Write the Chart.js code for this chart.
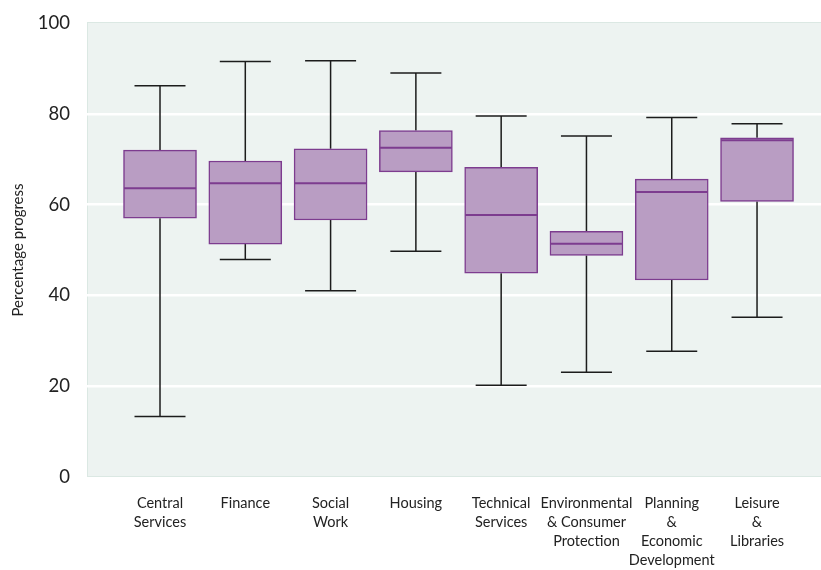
<!DOCTYPE html>
<html>
<head>
<meta charset="utf-8">
<script src="https://cdn.jsdelivr.net/npm/chart.js@4"></script>
<style>
body{margin:0;background:#fff}
#wrap{width:821px;height:570px}
</style>
</head>
<body>
<div id="wrap"><canvas id="boxChart"></canvas></div>
<script>

const categorias = [
["Central","Services"],
["Finance"],
["Social","Work"],
["Housing"],
["Technical","Services"],
["Environmental","& Consumer","Protection"],
["Planning","&","Economic","Development"],
["Leisure","&","Libraries"]
]

const minimo  = [13.3, 47.9, 41.0, 49.7, 20.2, 23.1, 27.7, 35.2]
const q1      = [57.0, 51.3, 56.6, 67.2, 44.9, 48.8, 43.4, 60.7]
const mediana = [63.6, 64.7, 64.7, 72.5, 57.7, 51.4, 62.8, 74.2]
const q3      = [72.0, 69.6, 72.3, 76.3, 68.2, 54.1, 65.6, 74.7]
const maximo  = [86.2, 91.5, 91.7, 89.0, 79.5, 75.1, 79.2, 77.8]

const yTicks = [0, 20, 40, 60, 80, 100]

const roxo = "#7d3c8f"
const preenchimento = "#b99dc3"
const fonte = "Lato, 'Noto Sans', sans-serif"

// fundo da area do grafico
const fundo = {
id:"fundo",
beforeDraw(chart){
const a = chart.chartArea
const ctx = chart.ctx
ctx.save()
ctx.fillStyle = "#edf3f1"
ctx.fillRect(a.left, a.top - 1, a.right - a.left, a.bottom - a.top + 1)
ctx.strokeStyle = "#dbe8e3"
ctx.lineWidth = 1
ctx.strokeRect(a.left + 0.5, a.top - 0.5, a.right - a.left, a.bottom - a.top)
ctx.restore()
}
}

// bigodes atras das caixas, mediana por cima
const bigodes = {
id:"bigodes",
beforeDatasetsDraw(chart){
const x = chart.scales.x
const y = chart.scales.y
const ctx = chart.ctx
ctx.save()
ctx.strokeStyle = "#1c1c1c"
ctx.lineWidth = 1.5
minimo.forEach((v,i)=>{
const cx = x.getPixelForValue(i)
ctx.beginPath()
ctx.moveTo(cx, y.getPixelForValue(v))
ctx.lineTo(cx, y.getPixelForValue(q1[i]))
ctx.moveTo(cx, y.getPixelForValue(q3[i]))
ctx.lineTo(cx, y.getPixelForValue(maximo[i]))
ctx.moveTo(cx - 25.5, y.getPixelForValue(v))
ctx.lineTo(cx + 25.5, y.getPixelForValue(v))
ctx.moveTo(cx - 25.5, y.getPixelForValue(maximo[i]))
ctx.lineTo(cx + 25.5, y.getPixelForValue(maximo[i]))
ctx.stroke()
})
ctx.restore()
},
afterDatasetsDraw(chart){
const x = chart.scales.x
const y = chart.scales.y
const ctx = chart.ctx
ctx.save()
ctx.strokeStyle = roxo
ctx.lineWidth = 2
mediana.forEach((v,i)=>{
const cx = x.getPixelForValue(i)
const py = y.getPixelForValue(v)
ctx.beginPath()
ctx.moveTo(cx - 36, py)
ctx.lineTo(cx + 36, py)
ctx.stroke()
})
ctx.restore()
}
}

new Chart(document.getElementById("boxChart"),{
type:"bar",
data:{
datasets:[{
data:q1.map((v,i)=>({x:i, y:[v, q3[i]]})),
backgroundColor:preenchimento,
borderColor:roxo,
borderWidth:1.5,
borderSkipped:false,
barThickness:73
}]
},
plugins:[fundo, bigodes],
options:{
responsive:true,
maintainAspectRatio:false,
animation:false,
layout:{padding:{top:23, right:0, left:0, bottom:0}},
plugins:{legend:{display:false}, tooltip:{enabled:false}},
scales:{
x:{
type:"linear",
offset:false,
min:-0.856,
max:7.75,
afterBuildTicks(s){ s.ticks = categorias.map((c,i)=>({value:i})) },
afterFit(s){ s.height = 93 },
grid:{display:false, drawTicks:false},
border:{display:false},
ticks:{
autoSkip:false,
maxRotation:0,
padding:17,
color:"#222",
font:{family:fonte, size:14.5, lineHeight:1.31},
callback:(v)=>categorias[v]
}
},
y:{
min:0,
max:100,
afterBuildTicks(s){ s.ticks = yTicks.map(v=>({value:v})) },
afterFit(s){ s.width = 87; s.paddingTop = 0; s.paddingBottom = 0 },
grid:{
color:(c)=>(c.tick.value > 0 && c.tick.value < 100) ? "#ffffff" : "rgba(0,0,0,0)",
lineWidth:2.5,
drawTicks:false
},
border:{display:false},
ticks:{
padding:17,
color:"#222",
font:{family:fonte, size:18.5}
},
title:{
display:true,
text:"Percentage progress",
color:"#222",
padding:{top:9, bottom:0},
font:{family:fonte, size:15}
}
}
}
}
})

</script>
</body>
</html>
